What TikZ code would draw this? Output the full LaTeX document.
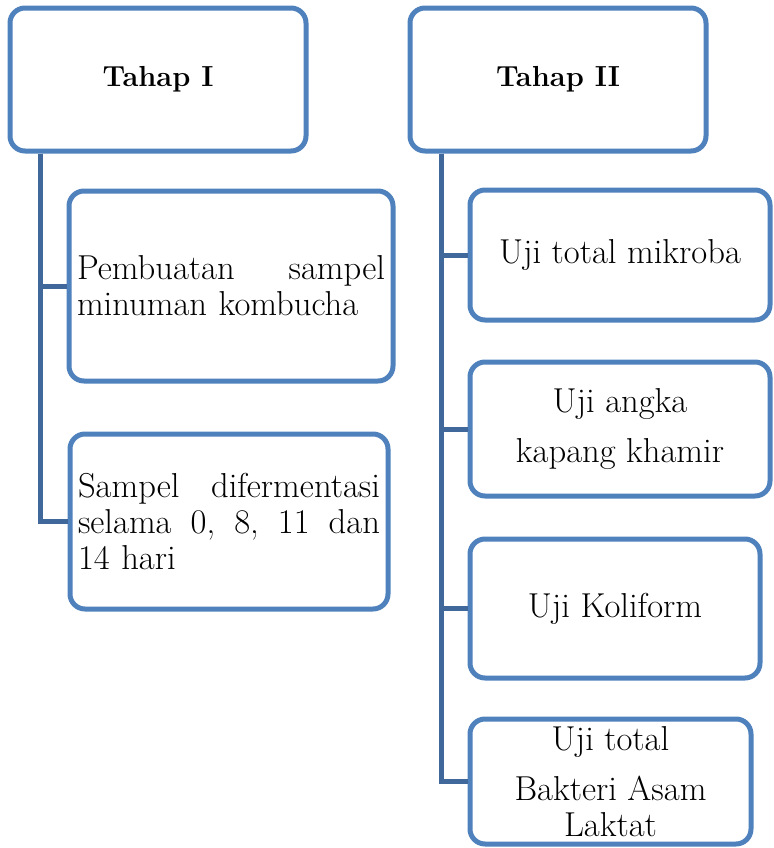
\documentclass[tikz,border=0pt]{standalone}
\usepackage{tikz}
\usetikzlibrary{positioning}
\definecolor{boxblue}{HTML}{4F81BD}
\definecolor{lineblue}{HTML}{41689A}

\tikzset{
	stage/.style={draw=boxblue, line width=2.5pt, rounded corners=7.5pt, fill=white, outer sep=0pt, minimum width=148pt, minimum height=71.5pt, font=\fontsize{14.5}{17}\selectfont\bfseries},
	task/.style={draw=boxblue, line width=2.5pt, rounded corners=7.5pt, fill=white, outer sep=0pt, align=center, font=\fontsize{17.3}{18}\selectfont},
	steptext/.style={task, align=left, inner xsep=4pt},
	trunk/.style={draw=lineblue, line width=2.5pt, shorten <=1.25pt, shorten >=1.25pt}
}

\begin{document}
\begin{tikzpicture}[x=0.5pt, y=-0.5pt]
	\useasboundingbox (0,0) rectangle (773,848);
	\node[stage] (tahap1) at (158,79.5) {Tahap I};
	\node[stage] (tahap2) at (558,79.5) {Tahap II};
	
	\node[steptext, text width=154pt, minimum height=95pt] (buat) at (231,286) {Pembuatan\hfill sampel\\minuman kombucha};
	\node[steptext, text width=151pt, minimum height=87.5pt] (fermentasi) at (229,521.5) {Sampel\hfill difermentasi\\selama\hfill 0,\hfill 8,\hfill 11\hfill dan\\14 hari};
	
	\node[task, minimum width=150pt, minimum height=65pt] (mikroba) at (620,255) {Uji total mikroba};
	\node[task, minimum width=150pt, minimum height=67pt] (kapang) at (620,429) {Uji angka\\[7pt]kapang khamir};
	\node[task, minimum width=145pt, minimum height=69.5pt] (koliform) at (615,608.5) {Uji Koliform};
	\node[task, minimum width=140.5pt, minimum height=62.5pt, inner ysep=0pt] (bal) at (610.5,781.5) {Uji total\\[7pt]Bakteri Asam\\Laktat};
	
	% tahap I
	\draw[trunk] ([xshift=15pt]tahap1.south west) |- (buat.west);
	\draw[trunk] ([xshift=15pt]tahap1.south west) |- (fermentasi.west);
	% tahap II
	\foreach \uji in {mikroba, kapang, koliform, bal}{%
	\draw[trunk] ([xshift=15.5pt]tahap2.south west) |- (\uji.west);
	}
\end{tikzpicture}
\end{document}
